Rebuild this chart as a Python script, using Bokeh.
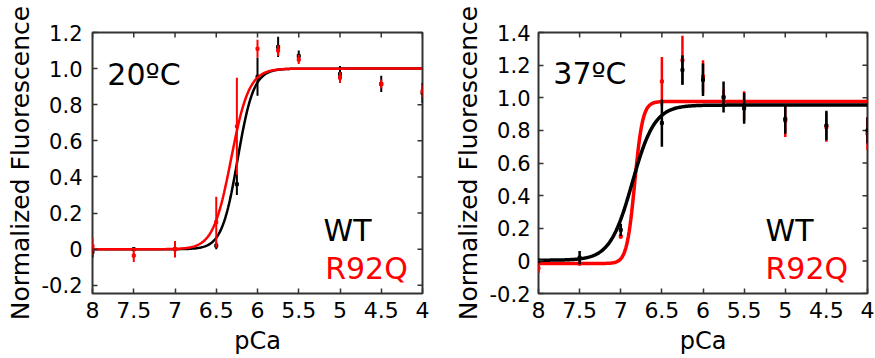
import numpy as np
from bokeh.plotting import figure
from bokeh.layouts import row
from bokeh.models import Range1d, FixedTicker, CustomJSTickFormatter, Label, ColumnDataSource
from bokeh.embed import file_html
from bokeh.resources import INLINE

# ---------------- data ----------------
pca = [8, 7.5, 7, 6.5, 6.25, 6, 5.75, 5.5, 5, 4.5, 4]

# 20 ºC
wt20 = [-0.015, 0.0, 0.0, 0.02, 0.36, 0.955, 1.12, 1.07, 0.97, 0.915, 0.865]
wt20_err = [0.03, 0.01, 0.01, 0.02, 0.06, 0.105, 0.056, 0.03, 0.045, 0.045, 0.055]
r20 = [0.017, -0.035, 0.0, 0.15, 0.68, 1.11, 1.10, 1.05, 0.95, 0.915, 0.875]
r20_err = [0.047, 0.035, 0.045, 0.14, 0.27, 0.05, 0.03, 0.025, 0.03, 0.025, 0.035]
# Hill fit parameters: (bottom, top, pCa50, nH)
fit_wt20 = (0.0, 1.0, 6.24, 4.5)
fit_r20 = (0.0, 1.0, 6.32, 4.0)

# 37 ºC
wt37 = [0.0, 0.02, 0.19, 0.845, 1.17, 1.11, 1.005, 0.935, 0.87, 0.83, 0.80]
wt37_err = [0.015, 0.04, 0.037, 0.145, 0.09, 0.10, 0.095, 0.095, 0.09, 0.09, 0.08]
r37 = [-0.045, -0.015, 0.15, 1.10, 1.23, 1.13, 1.0, 0.95, 0.86, 0.82, 0.78]
r37_err = [0.03, 0.015, 0.015, 0.15, 0.15, 0.10, 0.05, 0.09, 0.10, 0.09, 0.10]
fit_wt37 = (0.004, 0.955, 6.86, 3.2)
fit_r37 = (-0.016, 0.977, 6.83, 9.0)

x_ticks = [8, 7.5, 7, 6.5, 6, 5.5, 5, 4.5, 4]
y_ticks20 = [-0.2, 0, 0.2, 0.4, 0.6, 0.8, 1.0, 1.2]
y_ticks37 = [-0.2, 0, 0.2, 0.4, 0.6, 0.8, 1.0, 1.2, 1.4]

FONT = "DejaVu Sans"
RED = "#ff0000"
BLACK = "#000000"
FRAME = "#333333"


def hill(params, x):
    b, t, p50, n = params
    return b + (t - b) / (1.0 + 10.0 ** (n * (x - p50)))


def make_fig(frame_w, border_left, border_right, y_range, y_ticks, lab_sd, ax_sd):
    p = figure(frame_width=frame_w, frame_height=261, output_backend="svg", toolbar_location=None,
               x_range=Range1d(8, 4), y_range=Range1d(*y_range),
               min_border_left=border_left, min_border_right=border_right,
               min_border_top=32, min_border_bottom=65)
    p.xgrid.visible = False
    p.ygrid.visible = False
    p.outline_line_color = FRAME
    p.outline_line_width = 2
    p.background_fill_color = "white"
    p.border_fill_color = "white"

    xfmt = CustomJSTickFormatter(code="return Number.isInteger(tick) ? tick.toString() : tick.toFixed(1);")
    yfmt = CustomJSTickFormatter(code="return Math.abs(tick) < 1e-9 ? '0' : tick.toFixed(1);")

    for ax in p.axis:
        ax.axis_line_color = None
        ax.major_tick_in = 5
        ax.major_tick_out = 0
        ax.major_tick_line_color = FRAME
        ax.major_tick_line_width = 1.5
        ax.minor_tick_line_color = None
        ax.major_label_text_font = FONT
        ax.major_label_text_color = BLACK
        ax.axis_label_text_font = FONT
        ax.axis_label_text_font_style = "normal"
        ax.axis_label_text_color = BLACK

    for ax in p.xaxis:
        ax.ticker = FixedTicker(ticks=x_ticks)
        ax.formatter = xfmt
        ax.axis_label = "pCa"
        ax.axis_label_text_font_size = "24px"
        ax.major_label_text_font_size = "22px"
        ax.major_label_standoff = 8
        ax.axis_label_standoff = 6
    for ax in p.yaxis:
        ax.ticker = FixedTicker(ticks=y_ticks)
        ax.formatter = yfmt
        ax.axis_label = "Normalized Fluorescence"
        ax.axis_label_text_font_size = "25px"
        ax.major_label_text_font_size = "21px"
        ax.major_label_standoff = lab_sd
        ax.axis_label_standoff = ax_sd

    # mirrored inward ticks on the top and right edges of the box
    y_top = [y_range[1]] * len(x_ticks)
    p.scatter(x=x_ticks, y=y_top, marker="dash", angle=np.pi / 2, size=10,
              line_color=FRAME, line_width=1.5)
    x_right = [4] * len(y_ticks)
    p.scatter(x=x_right, y=y_ticks, marker="dash", size=10, line_color=FRAME, line_width=1.5)
    return p


def add_series(p, y, err, color, fit, lw_fit, lw_err):
    xs = np.array(pca, dtype=float)
    ys = np.array(y, dtype=float)
    es = np.array(err, dtype=float)
    src = ColumnDataSource(dict(x=xs, y=ys, lo=ys - es, hi=ys + es))
    p.segment(x0="x", y0="lo", x1="x", y1="hi", source=src, line_color=color, line_width=lw_err)
    p.scatter(x="x", y="y", source=src, size=3, color=color, marker="square")
    xf = np.linspace(8, 4, 400)
    p.line(xf, hill(fit, xf), line_color=color, line_width=lw_fit)


def add_texts(p, title, tx, ty, wx, wy, rx, ry):
    for text, x, y, c in [(title, tx, ty, BLACK), ("WT", wx, wy, BLACK), ("R92Q", rx, ry, RED)]:
        p.add_layout(Label(x=x, y=y, text=text, text_font=FONT, text_font_size="30px",
                           text_color=c, text_baseline="alphabetic", text_align="left"))


# ---------------- left: 20 ºC ----------------
p1 = make_fig(330, 92, 11, (-0.245, 1.2), y_ticks20, 10, 4)
add_series(p1, wt20, wt20_err, BLACK, fit_wt20, 2.5, 2)
add_series(p1, r20, r20_err, RED, fit_r20, 2.5, 2)
add_texts(p1, "20ºC", 7.82, 0.97, 5.2, 0.104, 5.18, -0.106)

# ---------------- right: 37 ºC ----------------
p2 = make_fig(329, 105, 8, (-0.2, 1.4), y_ticks37, 8, 4)
add_series(p2, r37, r37_err, RED, fit_r37, 3.5, 2.5)
add_series(p2, wt37, wt37_err, BLACK, fit_wt37, 3.5, 2.5)
add_texts(p2, "37ºC", 7.82, 1.149, 5.24, 0.186, 5.24, -0.047)

layout = row(p1, p2)
open("out.html", "w").write(file_html(layout, INLINE))
